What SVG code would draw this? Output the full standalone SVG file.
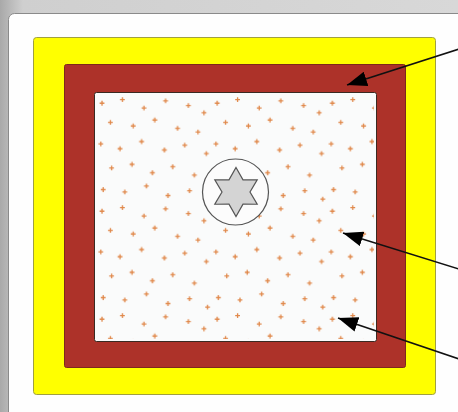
<svg xmlns="http://www.w3.org/2000/svg" xmlns:xlink="http://www.w3.org/1999/xlink" width="458" height="412" viewBox="0 0 458 412">
  <style>
    .plus { stroke: #e0884a; stroke-width: 1.1; fill: none; }
    .conn { stroke: #111; stroke-width: 1.6; fill: none; marker-end: url(#ah); }
  </style>
  <defs>
    <linearGradient id="bg" x1="0" y1="0" x2="1" y2="0">
      <stop offset="0" stop-color="#a9a9a9"/>
      <stop offset="0.05" stop-color="#cfcfcf"/>
      <stop offset="1" stop-color="#d8d8d8"/>
    </linearGradient>
    <marker id="ah" viewBox="0 0 20 15" refX="20" refY="7.5" markerWidth="20" markerHeight="15" markerUnits="userSpaceOnUse" orient="auto">
      <path d="M0,0 L20,7.5 L0,15 Z" fill="#000"/>
    </marker>
    <pattern id="dots" patternUnits="userSpaceOnUse" x="0" y="0" width="96" height="90" patternTransform="translate(96,96) scale(1.2)">
      <path class="plus" d="M3,6h4M5,4v4 M20,3h4M22,1v4 M38,10h4M40,8v4 M56,4h4M58,2v4 M75,8h4M77,6v4 M88,14h4M90,12v4 M10,22h4M12,20v4 M29,25h4M31,23v4 M47,20h4M49,18v4 M66,27h4M68,25v4 M83,30h4M85,28v4 M2,40h4M4,38v4 M18,44h4M20,42v4 M36,38h4M38,36v4 M55,45h4M57,43v4 M72,41h4M74,39v4 M90,48h4M92,46v4 M11,60h4M13,58v4 M28,57h4M30,55v4 M45,64h4M47,62v4 M62,59h4M64,57v4 M80,66h4M82,64v4 M4,78h4M6,76v4 M22,80h4M24,78v4 M40,75h4M42,73v4 M58,83h4M60,81v4 M76,79h4M78,77v4 M91,86h4M93,84v4"/>
    </pattern>
  </defs>
  <g id="background">
    <rect x="0" y="0" width="458" height="412" fill="url(#bg)"/>
    <rect x="8.5" y="13.5" width="470" height="420" rx="6" fill="#fefefe" stroke="#8a8a8a" stroke-width="1"/>
  </g>
  <g id="outer-layer">
    <rect x="33.5" y="37.5" width="402" height="357" rx="3" fill="#ffff00" stroke="#a0a040" stroke-width="1"/>
  </g>
  <g id="middle-layer">
    <rect x="64.5" y="64.5" width="341" height="303" rx="2" fill="#ad3229" stroke="#7d2a1c" stroke-width="1"/>
  </g>
  <g id="inner-layer">
    <rect x="94.5" y="92.5" width="282" height="249" rx="2" fill="#fafbfb" stroke="#3a2a22" stroke-width="1"/>
    <rect x="97" y="95" width="277" height="244" fill="url(#dots)"/>
  </g>
  <g id="core">
    <circle cx="235.5" cy="192" r="33" fill="#fcfcfc" stroke="#555" stroke-width="1.2"/>
    <polygon points="236,167.5 243,179.9 257.2,179.75 250,192 257.2,204.25 243,204.1 236,216.5 229,204.1 214.8,204.25 222,192 214.8,179.75 229,179.9" fill="#d4d4d4" stroke="#555" stroke-width="1.2" stroke-linejoin="miter"/>
  </g>
  <g id="connectors">
    <line class="conn" x1="462" y1="48" x2="347" y2="85"/>
    <line class="conn" x1="462" y1="270" x2="343" y2="233"/>
    <line class="conn" x1="462" y1="360" x2="338" y2="318"/>
  </g>
</svg>
